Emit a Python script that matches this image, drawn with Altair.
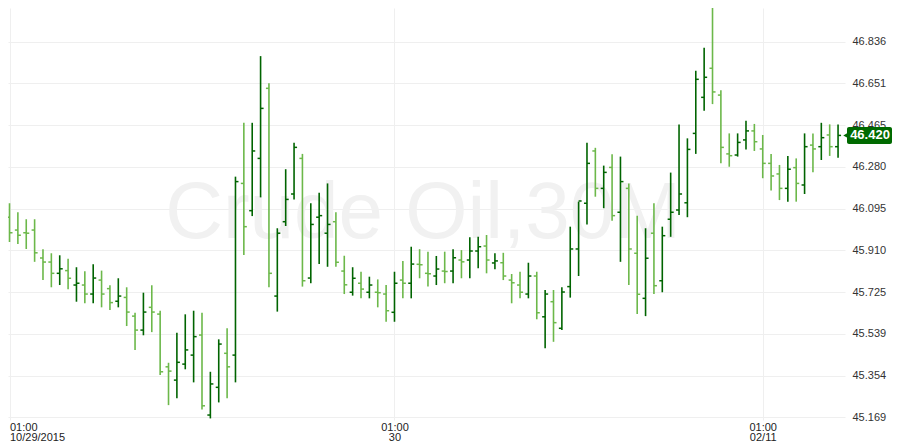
import altair as alt
import pandas as pd

# ---- data (30-minute OHLC bars) ----
OPEN = [46.057, 46.000, 45.988, 46.000, 45.876, 45.858, 45.808, 45.820, 45.756, 45.756,
        45.716, 45.778, 45.740, 45.684, 45.701, 45.618, 45.556, 45.657, 45.627, 45.393,
        45.334, 45.405, 45.445, 45.534, 45.179, 45.302, 45.453, 45.445, 46.207, 46.086,
        46.318, 46.629, 45.707, 46.037, 46.160, 46.318, 45.787, 46.057, 45.986, 46.037,
        45.818, 45.724, 45.764, 45.724, 45.724, 45.716, 45.635, 45.778, 45.764, 45.848,
        45.808, 45.796, 45.818, 45.818, 45.867, 45.867, 45.907, 45.929, 45.854, 45.855,
        45.778, 45.756, 45.716, 45.796, 45.615, 45.682, 45.564, 45.749, 45.916, 46.119,
        46.351, 46.185, 46.278, 46.079, 46.185, 45.897, 45.697, 45.986, 45.775, 46.048,
        46.089, 46.121, 46.429, 46.589, 46.718, 46.599, 46.338, 46.333, 46.400, 46.440,
        46.360, 46.296, 46.249, 46.185, 46.277, 46.200, 46.377, 46.370, 46.422, 46.370]
HIGH = [46.119, 46.079, 46.048, 46.048, 45.915, 45.897, 45.888, 45.873, 45.835, 45.817,
        45.848, 45.820, 45.755, 45.786, 45.746, 45.633, 45.722, 45.755, 45.642, 45.411,
        45.544, 45.626, 45.642, 45.633, 45.371, 45.515, 45.564, 46.237, 46.476, 46.476,
        46.772, 46.651, 46.008, 46.270, 46.388, 46.338, 46.119, 46.166, 46.207, 46.079,
        45.886, 45.835, 45.815, 45.793, 45.781, 45.756, 45.815, 45.863, 45.926, 45.915,
        45.904, 45.885, 45.904, 45.915, 45.911, 45.968, 45.970, 45.978, 45.897, 45.899,
        45.805, 45.815, 45.855, 45.815, 45.734, 45.734, 45.746, 46.015, 46.126, 46.388,
        46.365, 46.286, 46.336, 46.326, 46.207, 46.064, 46.008, 46.119, 46.015, 46.255,
        46.469, 46.407, 46.707, 46.809, 47.020, 46.621, 46.429, 46.429, 46.485, 46.471,
        46.422, 46.338, 46.289, 46.329, 46.318, 46.429, 46.429, 46.476, 46.469, 46.469]
LOW = [45.947, 45.938, 45.916, 45.859, 45.778, 45.746, 45.756, 45.737, 45.682, 45.675,
       45.675, 45.657, 45.645, 45.657, 45.574, 45.468, 45.533, 45.547, 45.357, 45.223,
       45.253, 45.382, 45.324, 45.204, 45.164, 45.235, 45.253, 45.324, 45.889, 46.062,
       46.145, 45.746, 45.638, 46.018, 46.136, 45.749, 45.764, 45.849, 45.837, 45.837,
       45.716, 45.709, 45.697, 45.697, 45.657, 45.593, 45.593, 45.697, 45.697, 45.786,
       45.749, 45.756, 45.764, 45.764, 45.786, 45.786, 45.830, 45.808, 45.826, 45.778,
       45.675, 45.697, 45.697, 45.604, 45.475, 45.504, 45.556, 45.700, 45.796, 46.025,
       46.148, 46.097, 46.041, 45.859, 45.756, 45.627, 45.618, 45.716, 45.724, 45.970,
       46.067, 46.057, 46.338, 46.530, 46.559, 46.296, 46.281, 46.326, 46.358, 46.351,
       46.230, 46.175, 46.133, 46.126, 46.126, 46.160, 46.256, 46.311, 46.329, 46.321]
CLOSE = [45.988, 45.977, 45.986, 45.899, 45.858, 45.808, 45.828, 45.786, 45.764, 45.716,
         45.787, 45.716, 45.678, 45.707, 45.636, 45.556, 45.636, 45.636, 45.371, 45.374,
         45.413, 45.468, 45.527, 45.220, 45.317, 45.494, 45.393, 46.215, 46.015, 46.351,
         46.540, 45.808, 45.986, 46.136, 46.367, 45.775, 46.025, 46.064, 46.025, 45.857,
         45.757, 45.786, 45.738, 45.756, 45.722, 45.642, 45.764, 45.764, 45.849, 45.846,
         45.806, 45.827, 45.816, 45.877, 45.859, 45.907, 45.926, 45.867, 45.863, 45.796,
         45.766, 45.724, 45.796, 45.633, 45.716, 45.589, 45.725, 45.916, 46.129, 46.296,
         46.185, 46.256, 46.064, 46.215, 45.916, 45.715, 45.875, 45.753, 45.975, 46.079,
         46.160, 46.358, 46.669, 46.678, 46.613, 46.367, 46.330, 46.389, 46.440, 46.392,
         46.296, 46.240, 46.185, 46.270, 46.207, 46.370, 46.360, 46.410, 46.370, 46.420]

Y_TICKS = [45.169, 45.354, 45.539, 45.725, 45.910, 46.095, 46.280, 46.465, 46.651, 46.836, 47.021]
X_TICK_POS = [0, 46, 90]
X_TICK_LABELS = [["01:00", "10/29/2015"], ["01:00", "30"], ["01:00", "02/11"]]
WATERMARK = "Crude Oil,30M"

DARK = "#006400"
LIGHT = "#6cb84a"
TAG = "#006a00"
GRID = "#efefef"
FONT = "Liberation Sans"

n = len(OPEN)
df = pd.DataFrame({
    "i": list(range(n)),
    "open": OPEN, "high": HIGH, "low": LOW, "close": CLOSE,
})
df["dir"] = ["up" if c >= o else "down" for o, c in zip(OPEN, CLOSE)]
df["i_l"] = df["i"] - 0.36
df["i_r"] = df["i"] + 0.36

W, H = 837, 412
xscale = alt.Scale(domain=[-0.18, 99.83], nice=False, zero=False)
yscale = alt.Scale(domain=[45.157, 46.9855], nice=False, zero=False)
cscale = alt.Scale(domain=["up", "down"], range=[DARK, LIGHT])

label_expr = " : ".join(
    f"datum.value == {p} ? {lab!r}" for p, lab in zip(X_TICK_POS[:-1], X_TICK_LABELS[:-1])
) + f" : {X_TICK_LABELS[-1]!r}"

xaxis = alt.Axis(values=X_TICK_POS, labelExpr=label_expr, title=None, grid=True,
                 gridColor=GRID, ticks=False, domain=False, labelFont=FONT,
                 labelFontSize=11, labelColor="#222", labelLineHeight=10,
                 labelPadding=1, labelFlush=12)
yaxis = alt.Axis(values=Y_TICKS, format=".3f", orient="right", title=None, grid=True,
                 gridColor=GRID, ticks=False, domain=False, labelFont=FONT,
                 labelFontSize=11, labelColor="#333", labelPadding=7)

wm = alt.Chart(pd.DataFrame({"t": [WATERMARK]})).mark_text(
    font=FONT, fontSize=80, color="#f1f1f1", align="center", baseline="alphabetic"
).encode(text="t:N", x=alt.value(415), y=alt.value(230))

base = alt.Chart(df)
hl = base.mark_rule(strokeWidth=1.6).encode(
    x=alt.X("i:Q", scale=xscale, axis=xaxis),
    y=alt.Y("low:Q", scale=yscale, axis=yaxis),
    y2="high:Q",
    color=alt.Color("dir:N", scale=cscale, legend=None),
)
op = base.mark_rule(strokeWidth=1.5).encode(
    x=alt.X("i_l:Q", scale=xscale), x2="i:Q",
    y=alt.Y("open:Q", scale=yscale),
    color=alt.Color("dir:N", scale=cscale, legend=None),
)
cl = base.mark_rule(strokeWidth=1.5).encode(
    x=alt.X("i:Q", scale=xscale), x2="i_r:Q",
    y=alt.Y("close:Q", scale=yscale),
    color=alt.Color("dir:N", scale=cscale, legend=None),
)

last = pd.DataFrame({"close": [CLOSE[-1]], "label": [f"{CLOSE[-1]:.3f}"]})
tag = alt.Chart(last).mark_rect(color=TAG, yOffset=-8.5, y2Offset=8.5,
                                cornerRadius=2, clip=False).encode(
    x=alt.value(W + 2), x2=alt.value(W + 47),
    y=alt.Y("close:Q", scale=yscale), y2="close:Q",
)
arrow = alt.Chart(last).mark_point(shape="triangle-left", filled=True, color=TAG,
                                   size=40, opacity=1, clip=False).encode(
    x=alt.value(W + 1), y=alt.Y("close:Q", scale=yscale),
)
tagtext = alt.Chart(last).mark_text(font=FONT, fontSize=13, fontWeight="bold",
                                    color="white", align="center", baseline="middle",
                                    clip=False).encode(
    x=alt.value(W + 25), y=alt.Y("close:Q", scale=yscale), text="label:N",
)

chart = alt.layer(wm, hl, op, cl, tag, arrow, tagtext).properties(
    width=W, height=H, autosize="none",
    padding={"left": 0, "top": 0, "right": 47, "bottom": 25},
).configure_view(strokeWidth=0)

chart.save("out.html", embed_options={"renderer": "svg", "actions": False})
